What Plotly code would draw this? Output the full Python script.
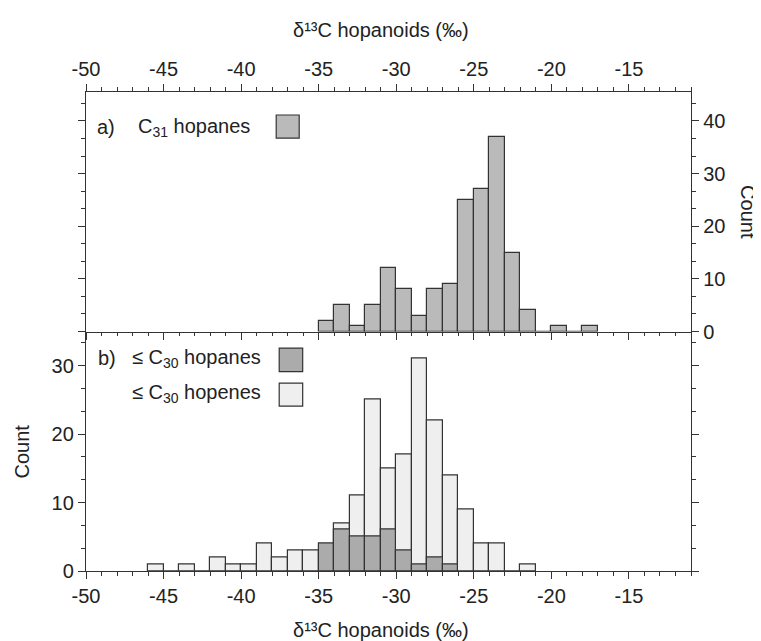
import plotly.graph_objects as go

# ---------------- data ----------------
# panel a) C31 hopanes (bin left edges, 1 permil bins)
c31_bin_left = [-35, -34, -33, -32, -31, -30, -29, -28, -27, -26, -25, -24, -23, -22, -21, -20, -19, -18]
c31_counts   = [2, 5, 1, 5, 12, 8, 3, 8, 9, 25, 27, 37, 15, 4, 0, 1, 0, 1]

# panel b) <= C30 hopenes (light) and <= C30 hopanes (dark)
hopene_bin_left = [-46, -45, -44, -43, -42, -41, -40, -39, -38, -37, -36, -35, -34, -33, -32,
                   -31, -30, -29, -28, -27, -26, -25, -24, -23, -22]
hopene_counts   = [1, 0, 1, 0, 2, 1, 1, 4, 2, 3, 3, 0, 7, 11, 25, 15, 17, 31, 22, 14, 9, 4, 4, 0, 1]

hopane_bin_left = [-35, -34, -33, -32, -31, -30, -29, -28, -27]
hopane_counts   = [4, 6, 5, 5, 6, 3, 1, 2, 1]

x_tick_vals = [-50, -45, -40, -35, -30, -25, -20, -15]
x_tick_text = ["-50", "-45", "-40", "-35", "-30", "-25", "-20", "-15"]

# ---------------- style ----------------
FONT = "Liberation Sans, Arial, sans-serif"
TXT = "#222222"
LINE = "#333333"
C_TOP = "#bababa"
C_DARK = "#ababab"
C_LIGHT = "#efefef"

# the page body has an 8px margin, so the figure is drawn 8px smaller and
# all page-pixel positions are shifted by that offset
OFF = 8
W, H = 761 - OFF, 641 - OFF
PLOT_L, PLOT_R, PLOT_T, PLOT_B = 85.7, 691, 92, 570.7   # page pixels
L, T = PLOT_L - OFF, PLOT_T - OFF
R, B = W - (PLOT_R - OFF), H - (PLOT_B - OFF)
PW, PH = PLOT_R - PLOT_L, PLOT_B - PLOT_T

def px(xp):
    return (xp - PLOT_L) / PW

def py(yp):
    return (PLOT_B - yp) / PH

fig = go.Figure()

bar_line = dict(color=LINE, width=1.2)
fig.add_trace(go.Bar(x=c31_bin_left, y=c31_counts, width=1, offset=0,
                     marker=dict(color=C_TOP, line=bar_line),
                     xaxis="x2", yaxis="y2", name="C31 hopanes", showlegend=False))
fig.add_trace(go.Bar(x=hopene_bin_left, y=hopene_counts, width=1, offset=0,
                     marker=dict(color=C_LIGHT, line=bar_line),
                     xaxis="x", yaxis="y", name="<= C30 hopenes", showlegend=False))
fig.add_trace(go.Bar(x=hopane_bin_left, y=hopane_counts, width=1, offset=0,
                     marker=dict(color=C_DARK, line=bar_line),
                     xaxis="x", yaxis="y", name="<= C30 hopanes", showlegend=False))

axis_common = dict(showline=True, linecolor=LINE, linewidth=1.3, ticks="outside",
                   tickcolor=LINE, tickwidth=1.3, ticklen=7, showgrid=False, zeroline=False,
                   tickfont=dict(family=FONT, size=20, color=TXT))

x_common = dict(axis_common, range=[-50, -11], tickmode="array",
                tickvals=x_tick_vals, ticktext=x_tick_text,
                minor=dict(dtick=1, tick0=-50, ticklen=3.5, tickcolor=LINE, tickwidth=1.2, ticks="outside"))

y_minor = dict(dtick=10 / 3, tick0=0, ticklen=4, tickcolor=LINE, tickwidth=1.2, ticks="outside")

fig.update_layout(
    width=W, height=H,
    margin=dict(l=L, r=R, t=T, b=B, pad=0),
    paper_bgcolor="white", plot_bgcolor="white",
    barmode="overlay", bargap=0,
    font=dict(family=FONT, size=20, color=TXT),
    xaxis=dict(x_common, anchor="y", side="bottom", mirror=False, domain=[0, 1]),
    xaxis2=dict(x_common, anchor="y2", side="top", mirror="ticks", domain=[0, 1], matches="x"),
    yaxis=dict(axis_common, anchor="x", side="left", domain=[0, 0.5], range=[0, 35],
               dtick=10, tick0=0, mirror="ticks", minor=y_minor),
    yaxis2=dict(axis_common, anchor="x2", side="right", domain=[0.5, 1], range=[0, 45.5],
                dtick=10, tick0=0, mirror="ticks", minor=y_minor),
)

ann_font = dict(family=FONT, size=20, color=TXT)
title_txt = "δ¹³C hopanoids (‰)"
annotations = [
    dict(text=title_txt, x=px(381), y=py(30), xanchor="center", yanchor="middle"),
    dict(text=title_txt, x=px(381), y=py(630), xanchor="center", yanchor="middle"),
    dict(text="Count", x=px(22), y=py(451), textangle=-90, xanchor="center", yanchor="middle"),
    dict(text="Count", x=px(748), y=py(212), textangle=90, xanchor="center", yanchor="middle"),
    dict(text="a)", x=px(95), y=py(127), xanchor="left", yanchor="middle"),
    dict(text="C<sub>31</sub> hopanes", x=px(136), y=py(127), xanchor="left", yanchor="middle"),
    dict(text="b)", x=px(96), y=py(358), xanchor="left", yanchor="middle"),
    dict(text="≤ C<sub>30</sub> hopanes", x=px(130), y=py(358), xanchor="left", yanchor="middle"),
    dict(text="≤ C<sub>30</sub> hopenes", x=px(130), y=py(393), xanchor="left", yanchor="middle"),
]
for a in annotations:
    a.update(xref="paper", yref="paper", showarrow=False, font=ann_font)
fig.update_layout(annotations=annotations)

box_line = dict(color=LINE, width=1.2)
shapes = [
    dict(x0=px(276), x1=px(299), y0=py(115), y1=py(138), fillcolor=C_TOP),
    dict(x0=px(279), x1=px(302.5), y0=py(348), y1=py(371.5), fillcolor=C_DARK),
    dict(x0=px(279), x1=px(302.5), y0=py(383), y1=py(406), fillcolor=C_LIGHT),
]
for s in shapes:
    s.update(type="rect", xref="paper", yref="paper", line=box_line)
fig.update_layout(shapes=shapes)

fig.write_html("out.html")
